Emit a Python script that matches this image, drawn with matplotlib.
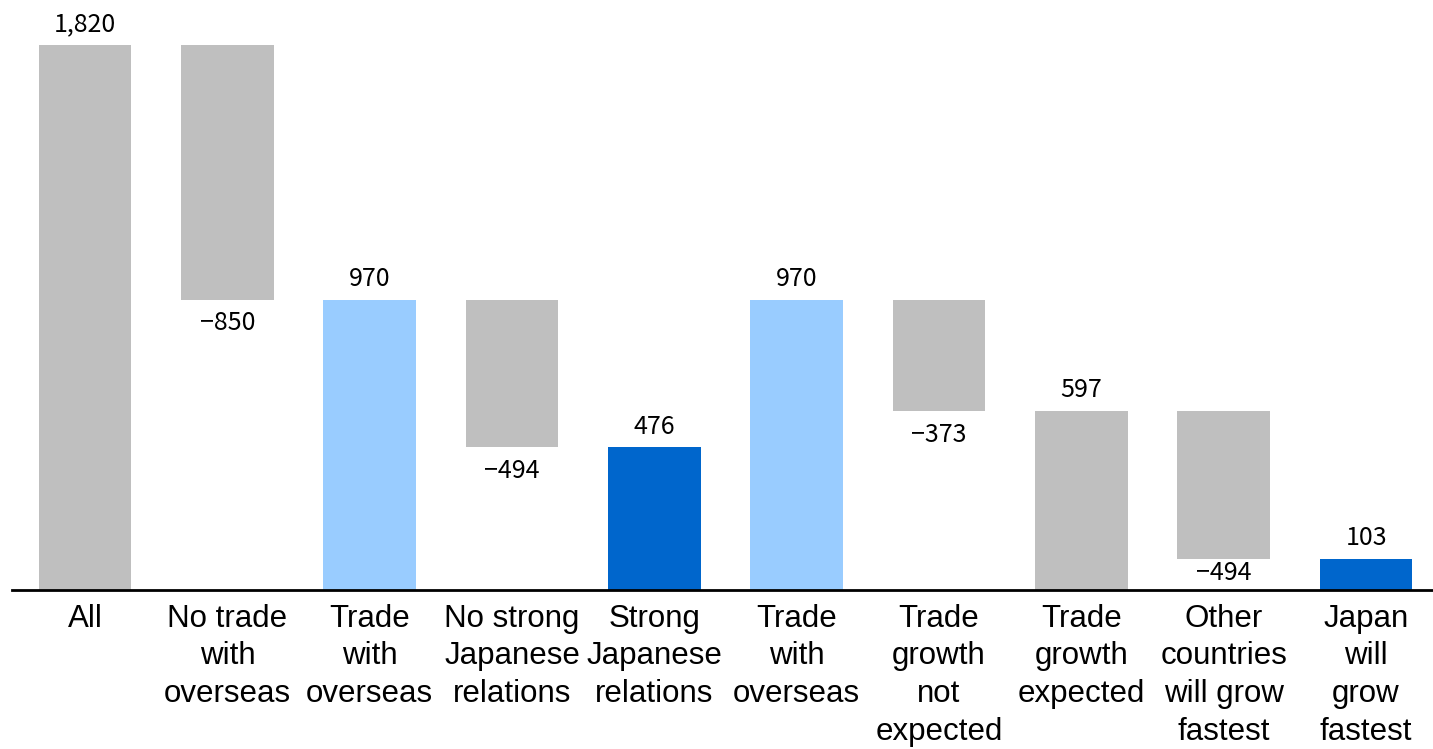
import matplotlib
matplotlib.use('Agg')
import matplotlib.pyplot as plt

categories = ['All', 'No trade\nwith\noverseas', 'Trade\nwith\noverseas',
              'No strong\nJapanese\nrelations', 'Strong\nJapanese\nrelations',
              'Trade\nwith\noverseas', 'Trade\ngrowth\nnot\nexpected',
              'Trade\ngrowth\nexpected', 'Other\ncountries\nwill grow\nfastest',
              'Japan\nwill\ngrow\nfastest']
values = [1820, -850, 970, -494, 476, 970, -373, 597, -494, 103]
bar_colors = ['#BFBFBF', '#BFBFBF', '#99CCFF', '#BFBFBF', '#0066CC',
              '#99CCFF', '#BFBFBF', '#BFBFBF', '#BFBFBF', '#0066CC']

num_font = ['Noto Sans CJK JP', 'DejaVu Sans']


def run():
    fig = plt.figure(figsize=(14.33, 7.49), dpi=100)
    ax = fig.add_axes([12 / 1433, 159 / 749, 1 - 12 / 1433, 590 / 749])

    x = list(range(len(values)))
    bottoms = []
    heights = []
    for i, v in enumerate(values):
        if v < 0:
            top = values[i - 1]
            bottoms.append(top + v)
            heights.append(-v)
        else:
            bottoms.append(0)
            heights.append(v)

    ax.bar(x, heights, bottom=bottoms, width=0.65, color=bar_colors)

    ymax = 1820 * 590 / 545
    ax.set_xlim(-0.513, 9.47)
    ax.set_ylim(0, ymax)

    for i, v in enumerate(values):
        if v >= 0:
            ax.annotate(f'{v:,}', (i, v), xytext=(0, 15), textcoords='offset points',
                        ha='center', va='center', fontsize=18, family=num_font)
        else:
            b = bottoms[i]
            off = -17 if b > 200 else -10
            ax.annotate(f'\u2212{-v:,}', (i, b), xytext=(0, off), textcoords='offset points',
                        ha='center', va='center', fontsize=18, family=num_font)

    for s in ['top', 'right', 'left']:
        ax.spines[s].set_visible(False)
    ax.spines['bottom'].set_linewidth(2)
    ax.set_yticks([])
    ax.set_xticks(x)
    ax.set_xticklabels(categories, fontsize=22.5, family='Liberation Sans', linespacing=1.33)
    ax.tick_params(axis='x', length=0, pad=10)

    fig.savefig('out.png', dpi=100)
    plt.close(fig)


if __name__ == '__main__':
    run()
